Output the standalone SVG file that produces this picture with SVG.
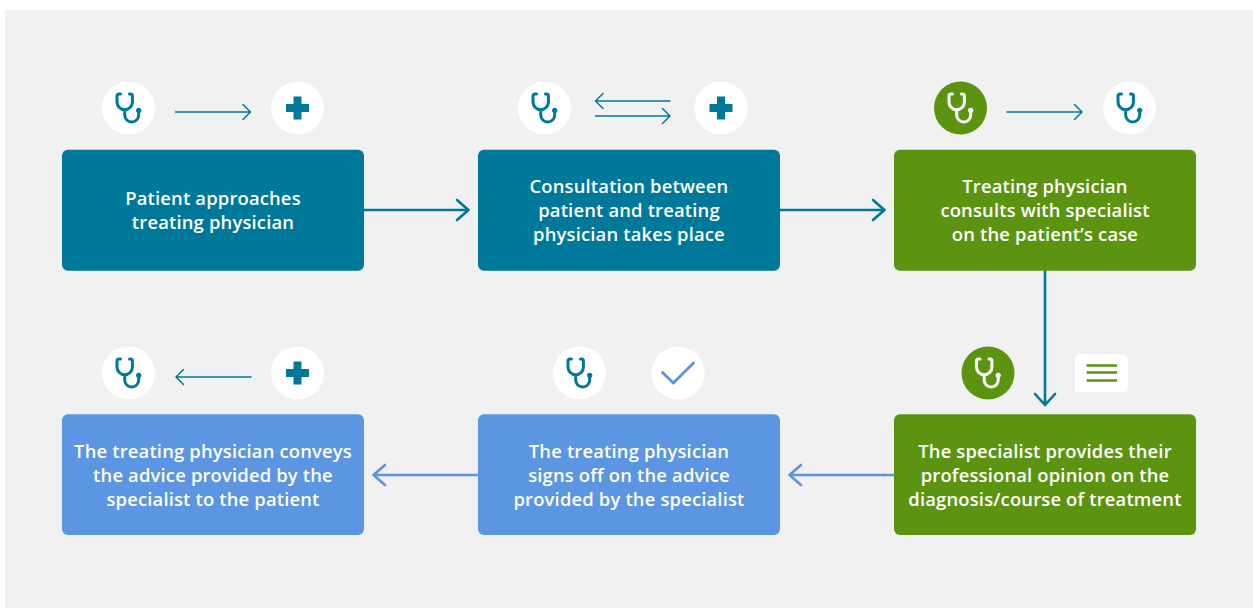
<svg xmlns="http://www.w3.org/2000/svg" width="1253" height="608" viewBox="0 0 1253 608">
<style>
.box{stroke:none}
.teal{fill:#00789a}.green{fill:#5c9412}.blue{fill:#5c96e2}
text{font-family:"Open Sans","Noto Sans",sans-serif;font-weight:600;font-size:18.4px;letter-spacing:.17px;fill:#fff;text-anchor:middle}
.c{fill:none;stroke-linecap:round;stroke-linejoin:round}
.thin{stroke:#00789a;stroke-width:1.5}
.thick{stroke-width:2.6}
.st{fill:none;stroke-width:3;stroke-linecap:round;stroke-linejoin:round}
</style>
<defs>
<g id="steth">
<path class="st" d="M-8,-14H-9.500Q-11.500,-14 -11.500,-12V-6A7.700,7.700 0 0 0 3.900,-6V-12Q3.900,-14 1.900,-14H1M-3.800,2V7A7,7 0 0 0 10.200,7V3"/>
<circle cx="10.200" cy="2.300" r="2.600" stroke="none"/>
</g>
<path id="plus" d="M-4,-11.500H4V-4H11.500V4H4V11.500H-4V4H-11.500V-4H-4Z" fill="#00789a"/>
</defs>
<rect x="0" y="0" width="1253" height="608" fill="#fff"/>
<rect x="5" y="10" width="1248" height="598" fill="#f1f1f1"/>
<g id="connectors" class="c">
<path class="c thin" d="M175.500,112H250.500M243,104.500L250.500,112L243,119.500"/>
<path class="c thin" d="M670,101H595.500M603,93.500L595.500,101L603,108.500"/>
<path class="c thin" d="M595.500,116H670M662.500,108.500L670,116L662.500,123.500"/>
<path class="c thin" d="M1007,112H1082M1074.500,104.500L1082,112L1074.500,119.500"/>
<path class="c thin" d="M251,377H176M183.500,369.500L176,377L183.500,384.500"/>
<path class="c thick" stroke="#00789a" d="M364,210H468M457,200L468.500,210L457,220"/>
<path class="c thick" stroke="#00789a" d="M780,210H884M873,200L884.500,210L873,220"/>
<path class="c thick" stroke="#00789a" d="M1045,270V404M1035,394L1045,405L1055,394"/>
<path class="c thick" stroke="#5c96e2" d="M894,475H790M801,465L789.500,475L801,485"/>
<path class="c thick" stroke="#5c96e2" d="M478,475H374M385,465L373.500,475L385,485"/>
</g>
<g id="node-1">
<circle cx="128.500" cy="108" r="26.500" fill="#fff"/><use href="#steth" x="128.500" y="108" stroke="#00789a" fill="#00789a"/>
<circle cx="297.500" cy="108" r="26.500" fill="#fff"/><use href="#plus" x="297.500" y="108"/>
<rect class="box teal" x="62" y="149.700" width="302" height="121" rx="6"/>
<text x="213" y="205">Patient approaches</text><text x="213" y="229">treating physician</text>
</g>
<g id="node-2">
<circle cx="544.500" cy="108" r="26.500" fill="#fff"/><use href="#steth" x="544.500" y="108" stroke="#00789a" fill="#00789a"/>
<circle cx="721" cy="108" r="26.500" fill="#fff"/><use href="#plus" x="721" y="108"/>
<rect class="box teal" x="478" y="149.700" width="302" height="121" rx="6"/>
<text x="629" y="193">Consultation between</text><text x="629" y="217">patient and treating</text><text x="629" y="241">physician takes place</text>
</g>
<g id="node-3">
<circle cx="960.500" cy="108" r="26.500" fill="#5c9412"/><use href="#steth" x="960.500" y="108" stroke="#fff" fill="#fff"/>
<circle cx="1129.500" cy="108" r="26.500" fill="#fff"/><use href="#steth" x="1129.500" y="108" stroke="#00789a" fill="#00789a"/>
<rect class="box green" x="894" y="149.700" width="302" height="121" rx="6"/>
<text x="1045" y="193">Treating physician</text><text x="1045" y="217">consults with specialist</text><text x="1045" y="241">on the patient’s case</text>
</g>
<g id="node-4">
<circle cx="988" cy="373" r="26.500" fill="#5c9412"/><use href="#steth" x="988" y="373" stroke="#fff" fill="#fff"/>
<path d="M1081,354H1122Q1128,354 1128,360V386Q1128,392 1122,392H1075V360Q1075,354 1081,354Z" fill="#fff"/>
<path d="M1086.500,365.500H1117M1086.500,372.500H1117M1086.500,380.500H1117" stroke="#5c9412" stroke-width="2.400" fill="none"/>
<rect class="box green" x="894" y="414.300" width="302" height="120.700" rx="6"/>
<text x="1045" y="458">The specialist provides their</text><text x="1045" y="482">professional opinion on the</text><text x="1045" y="506">diagnosis/course of treatment</text>
</g>
<g id="node-5">
<circle cx="579.500" cy="373" r="26.500" fill="#fff"/><use href="#steth" x="579.500" y="373" stroke="#00789a" fill="#00789a"/>
<circle cx="678" cy="373" r="26.500" fill="#fff"/>
<path d="M662.500,372.500L673.300,383L693.500,363" fill="none" stroke="#5c96e2" stroke-width="3" stroke-linecap="round" stroke-linejoin="round"/>
<rect class="box blue" x="478" y="414.300" width="302" height="120.700" rx="6"/>
<text x="629" y="458">The treating physician</text><text x="629" y="482">signs off on the advice</text><text x="629" y="506">provided by the specialist</text>
</g>
<g id="node-6">
<circle cx="128.500" cy="373" r="26.500" fill="#fff"/><use href="#steth" x="128.500" y="373" stroke="#00789a" fill="#00789a"/>
<circle cx="297.500" cy="373" r="26.500" fill="#fff"/><use href="#plus" x="297.500" y="373"/>
<rect class="box blue" x="62" y="414.300" width="302" height="120.700" rx="6"/>
<text x="213" y="458">The treating physician conveys</text><text x="213" y="482">the advice provided by the</text><text x="213" y="506">specialist to the patient</text>
</g>
</svg>
